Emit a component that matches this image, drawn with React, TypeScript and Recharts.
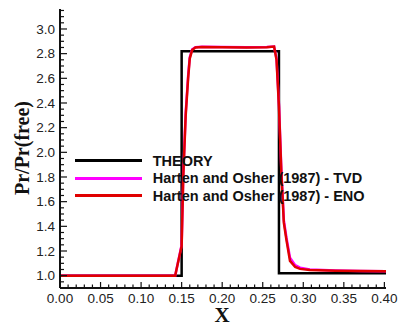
import React from 'react';
import { LineChart, Line, XAxis, YAxis, Legend, Label } from 'recharts';

// exact solution: pressure ratio step
const theoryX = [0, 0.15, 0.15, 0.27, 0.27, 0.402];
const theoryY = [1.0, 1.0, 2.82, 2.82, 1.02, 1.02];

// Harten & Osher (1987) TVD scheme
const tvdX = [0, 0.142, 0.15, 0.152, 0.155, 0.158, 0.16, 0.163, 0.167, 0.175, 0.2, 0.23, 0.255, 0.264, 0.267, 0.27, 0.273, 0.276, 0.2792, 0.2836, 0.29, 0.296, 0.308, 0.34, 0.37, 0.402];
const tvdY = [1.0, 1.0, 1.25, 1.82, 2.32, 2.62, 2.77, 2.835, 2.852, 2.855, 2.853, 2.851, 2.853, 2.858, 2.76, 2.39, 1.85, 1.45, 1.31, 1.145, 1.085, 1.065, 1.05, 1.042, 1.038, 1.035];

// Harten & Osher (1987) ENO scheme
const enoX = [0, 0.142, 0.15, 0.152, 0.155, 0.158, 0.16, 0.163, 0.167, 0.175, 0.2, 0.23, 0.255, 0.264, 0.267, 0.27, 0.273, 0.276, 0.2792, 0.2836, 0.29, 0.296, 0.308, 0.34, 0.37, 0.402];
const enoY = [1.0, 1.0, 1.24, 1.8, 2.3, 2.6, 2.76, 2.83, 2.85, 2.853, 2.852, 2.85, 2.852, 2.857, 2.75, 2.37, 1.83, 1.43, 1.29, 1.12, 1.07, 1.055, 1.045, 1.04, 1.037, 1.035];

const xMajor = [0, 0.05, 0.1, 0.15, 0.2, 0.25, 0.3, 0.35, 0.4];
const yMajor = [1.0, 1.2, 1.4, 1.6, 1.8, 2.0, 2.2, 2.4, 2.6, 2.8, 3.0];

const seriesNames = ['THEORY', 'Harten and Osher (1987) - TVD', 'Harten and Osher (1987) - ENO'];
const seriesColors = ['#000000', '#ff00ff', '#e00000'];

// minor ticks every 0.01 in x and 0.05 in y
const xTicks = Array.from({ length: 41 }, (_, i) => i / 100);
const yTicks = Array.from({ length: 45 }, (_, i) => Math.round(95 + i * 5) / 100);

const toPoints = (xs: number[], ys: number[]) => xs.map((x, i) => ({ x, y: ys[i] }));

const tickFont = "'Liberation Sans', Arial, sans-serif";
const titleFont = "'Liberation Serif', 'Times New Roman', serif";

const XTick = ({ x, y, payload }: any) => {
  const major = xMajor.includes(payload.value);
  return (
    <g>
      <line x1={x} x2={x} y1={y} y2={y - (major ? 6 : 3.5)} stroke="#111" strokeWidth={1.2} />
      {major && (
        <text x={x} y={y + 15} textAnchor="middle" fontFamily={tickFont} fontSize={13.5} fill="#222">
          {payload.value.toFixed(2)}
        </text>
      )}
    </g>
  );
};

const YTick = ({ x, y, payload }: any) => {
  const major = yMajor.includes(payload.value);
  return (
    <g>
      <line x1={x} x2={x + (major ? 7 : 4)} y1={y} y2={y} stroke="#111" strokeWidth={1.2} />
      {major && (
        <text x={x - 5} y={y + 4.8} textAnchor="end" fontFamily={tickFont} fontSize={13.5} fill="#222">
          {payload.value.toFixed(1)}
        </text>
      )}
    </g>
  );
};

const LegendBox = () => (
  <div style={{ fontFamily: tickFont, fontWeight: 'bold', fontSize: 14.5, color: '#111' }}>
    {seriesNames.map((name, i) => (
      <div key={name} style={{ display: 'flex', alignItems: 'center', height: 17.4, whiteSpace: 'nowrap' }}>
        <div style={{ width: 67, height: 3, background: seriesColors[i], marginRight: 10.7 }} />
        <span>{name}</span>
      </div>
    ))}
  </div>
);

export default function App() {
  return (
    <div style={{ position: 'absolute', left: 0, top: 0, background: '#fff' }}>
      <LineChart width={398} height={324} margin={{ top: 9, right: 12, left: 0, bottom: 0 }}>
        <XAxis
          xAxisId={0}
          type="number"
          dataKey="x"
          domain={[0, 0.402]}
          ticks={xTicks}
          interval={0}
          allowDataOverflow
          height={36}
          tickSize={0}
          tickMargin={0}
          tickLine={false}
          tick={<XTick />}
          axisLine={{ stroke: '#111', strokeWidth: 2 }}
        >
          <Label
            content={() => (
              <text x={222} y={322} textAnchor="middle" fontFamily={titleFont} fontWeight="bold" fontSize={21} fill="#111">
                X
              </text>
            )}
          />
        </XAxis>
        <XAxis xAxisId="top" orientation="top" type="number" domain={[0, 1]} height={0} tick={false} tickLine={false} axisLine={{ stroke: '#111', strokeWidth: 2 }} />
        <YAxis
          yAxisId={0}
          type="number"
          domain={[0.9, 3.162]}
          ticks={yTicks}
          interval={0}
          allowDataOverflow
          width={60}
          tickSize={0}
          tickMargin={0}
          tickLine={false}
          tick={<YTick />}
          axisLine={{ stroke: '#111', strokeWidth: 2 }}
        >
          <Label
            content={() => (
              <text x={0} y={0} transform="translate(29, 148) rotate(-90)" textAnchor="middle" fontFamily={titleFont} fontWeight="bold" fontSize={20} fill="#111">
                Pr/Pr(free)
              </text>
            )}
          />
        </YAxis>
        <YAxis yAxisId="right" orientation="right" type="number" domain={[0, 1]} width={0} tick={false} tickLine={false} axisLine={{ stroke: '#111', strokeWidth: 2 }} />
        <Legend
          layout="vertical"
          align="center"
          verticalAlign="middle"
          content={<LegendBox />}
          wrapperStyle={{ left: 75, top: 152.3, width: 320 }}
        />
        <Line
          data={toPoints(theoryX, theoryY)}
          dataKey="y"
          name={seriesNames[0]}
          type="linear"
          stroke={seriesColors[0]}
          strokeWidth={2.5}
          dot={false}
          isAnimationActive={false}
        />
        <Line
          data={toPoints(tvdX, tvdY)}
          dataKey="y"
          name={seriesNames[1]}
          type="linear"
          stroke={seriesColors[1]}
          strokeWidth={2.5}
          dot={false}
          isAnimationActive={false}
        />
        <Line
          data={toPoints(enoX, enoY)}
          dataKey="y"
          name={seriesNames[2]}
          type="linear"
          stroke={seriesColors[2]}
          strokeWidth={2.5}
          dot={false}
          isAnimationActive={false}
        />
      </LineChart>
    </div>
  );
}
